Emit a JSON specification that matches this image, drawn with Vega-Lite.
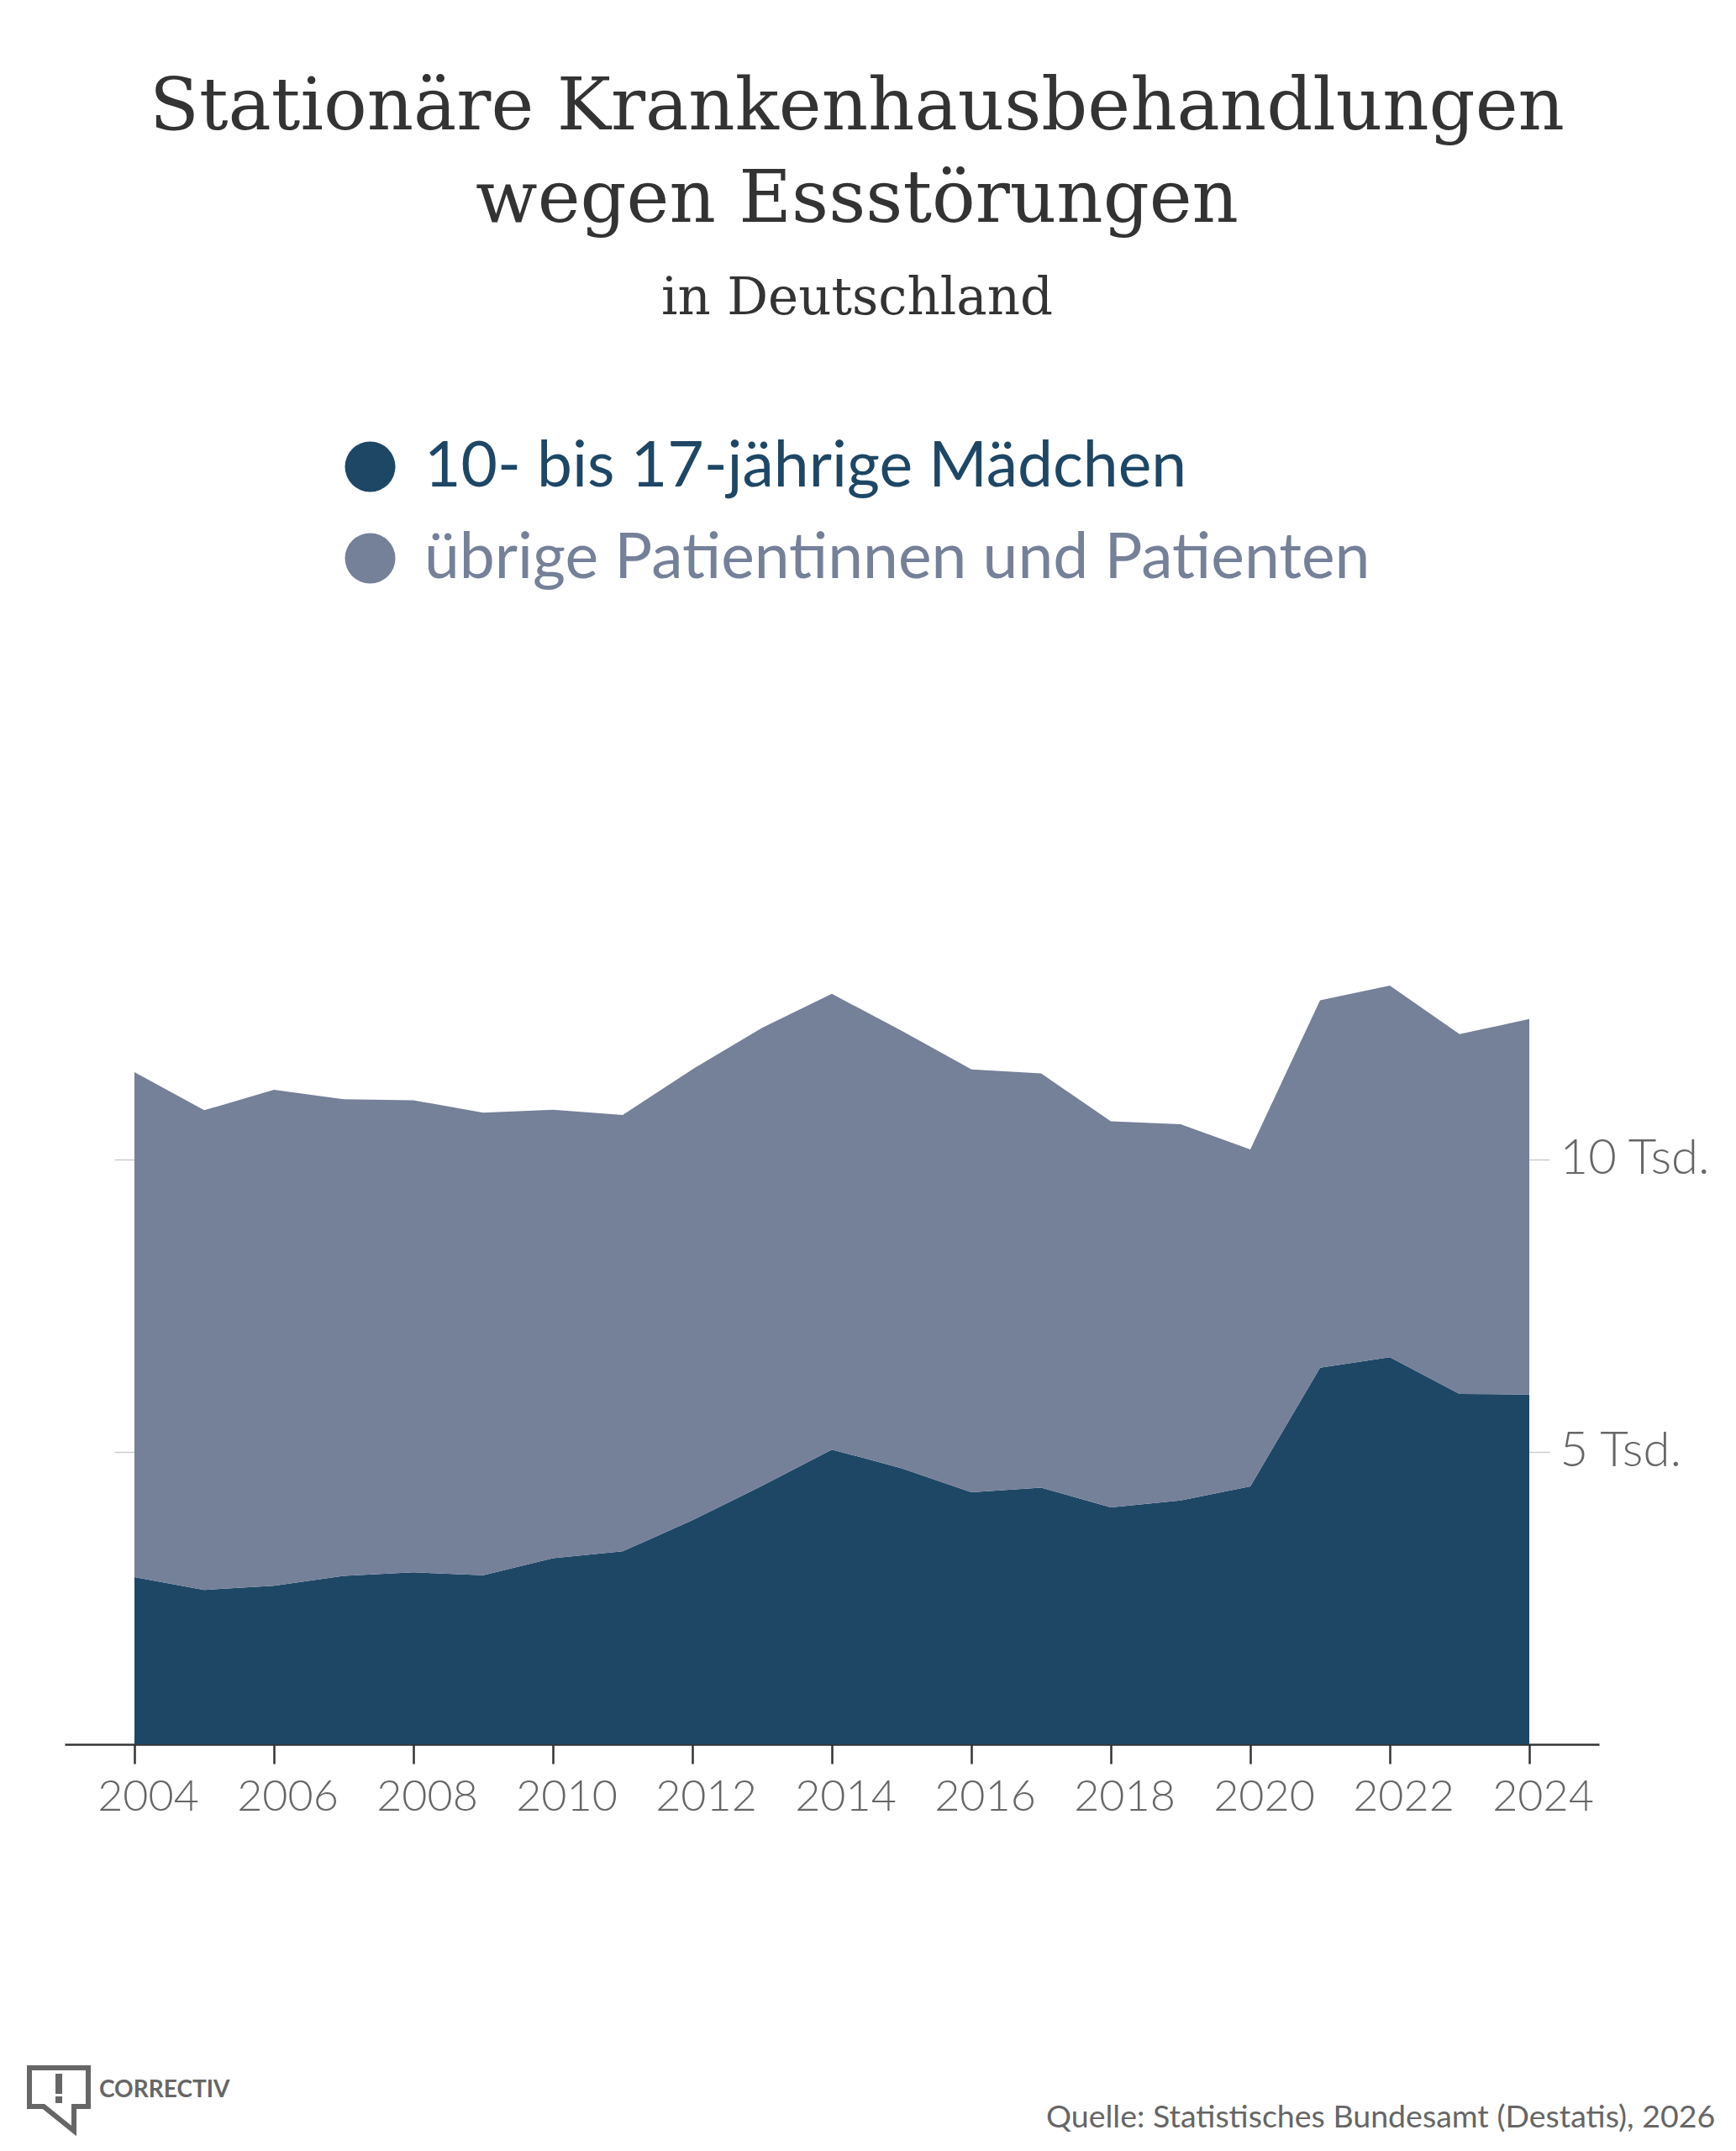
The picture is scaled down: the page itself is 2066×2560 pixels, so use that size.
{
  "$schema": "https://vega.github.io/schema/vega-lite/v6.json",
  "width": 1826,
  "height": 905,
  "autosize": "none",
  "padding": {"left": 77, "top": 1171, "right": 163, "bottom": 484},
  "background": "white",
  "config": {"view": {"stroke": null}, "font": "Lato"},
  "title": {
    "text": ["Stationäre Krankenhausbehandlungen", "wegen Essstörungen"],
    "subtitle": "in Deutschland",
    "font": "DejaVu Serif",
    "fontSize": 86,
    "fontWeight": "normal",
    "color": "#333333",
    "lineHeight": 110,
    "subtitleFont": "DejaVu Serif",
    "subtitleFontSize": 61,
    "subtitleColor": "#333333",
    "subtitlePadding": 44,
    "anchor": "middle",
    "frame": "group",
    "offset": 131,
    "dx": 30
  },
  "datasets": {
    "main": [
      {"year": 2004, "group": "10- bis 17-jährige Mädchen", "value": 2860},
      {"year": 2005, "group": "10- bis 17-jährige Mädchen", "value": 2640},
      {"year": 2006, "group": "10- bis 17-jährige Mädchen", "value": 2710},
      {"year": 2007, "group": "10- bis 17-jährige Mädchen", "value": 2880},
      {"year": 2008, "group": "10- bis 17-jährige Mädchen", "value": 2940},
      {"year": 2009, "group": "10- bis 17-jährige Mädchen", "value": 2890},
      {"year": 2010, "group": "10- bis 17-jährige Mädchen", "value": 3180},
      {"year": 2011, "group": "10- bis 17-jährige Mädchen", "value": 3300},
      {"year": 2012, "group": "10- bis 17-jährige Mädchen", "value": 3830},
      {"year": 2013, "group": "10- bis 17-jährige Mädchen", "value": 4420},
      {"year": 2014, "group": "10- bis 17-jährige Mädchen", "value": 5040},
      {"year": 2015, "group": "10- bis 17-jährige Mädchen", "value": 4720},
      {"year": 2016, "group": "10- bis 17-jährige Mädchen", "value": 4310},
      {"year": 2017, "group": "10- bis 17-jährige Mädchen", "value": 4390},
      {"year": 2018, "group": "10- bis 17-jährige Mädchen", "value": 4050},
      {"year": 2019, "group": "10- bis 17-jährige Mädchen", "value": 4170},
      {"year": 2020, "group": "10- bis 17-jährige Mädchen", "value": 4410},
      {"year": 2021, "group": "10- bis 17-jährige Mädchen", "value": 6440},
      {"year": 2022, "group": "10- bis 17-jährige Mädchen", "value": 6620},
      {"year": 2023, "group": "10- bis 17-jährige Mädchen", "value": 5990},
      {"year": 2024, "group": "10- bis 17-jährige Mädchen", "value": 5980},
      {"year": 2004, "group": "übrige Patientinnen und Patienten", "value": 8630},
      {"year": 2005, "group": "übrige Patientinnen und Patienten", "value": 8200},
      {"year": 2006, "group": "übrige Patientinnen und Patienten", "value": 8480},
      {"year": 2007, "group": "übrige Patientinnen und Patienten", "value": 8150},
      {"year": 2008, "group": "übrige Patientinnen und Patienten", "value": 8070},
      {"year": 2009, "group": "übrige Patientinnen und Patienten", "value": 7910},
      {"year": 2010, "group": "übrige Patientinnen und Patienten", "value": 7670},
      {"year": 2011, "group": "übrige Patientinnen und Patienten", "value": 7460},
      {"year": 2012, "group": "übrige Patientinnen und Patienten", "value": 7710},
      {"year": 2013, "group": "übrige Patientinnen und Patienten", "value": 7830},
      {"year": 2014, "group": "übrige Patientinnen und Patienten", "value": 7790},
      {"year": 2015, "group": "übrige Patientinnen und Patienten", "value": 7480},
      {"year": 2016, "group": "übrige Patientinnen und Patienten", "value": 7230},
      {"year": 2017, "group": "übrige Patientinnen und Patienten", "value": 7080},
      {"year": 2018, "group": "übrige Patientinnen und Patienten", "value": 6600},
      {"year": 2019, "group": "übrige Patientinnen und Patienten", "value": 6430},
      {"year": 2020, "group": "übrige Patientinnen und Patienten", "value": 5760},
      {"year": 2021, "group": "übrige Patientinnen und Patienten", "value": 6280},
      {"year": 2022, "group": "übrige Patientinnen und Patienten", "value": 6350},
      {"year": 2023, "group": "übrige Patientinnen und Patienten", "value": 6150},
      {"year": 2024, "group": "übrige Patientinnen und Patienten", "value": 6420}
    ]
  },
  "resolve": {"axis": {"y": "independent", "x": "independent"}},
  "layer": [
    {
      "data": {"name": "main"},
      "mark": {"type": "area", "opacity": 1},
      "encoding": {
        "x": {
          "field": "year",
          "type": "quantitative",
          "scale": {"domain": [2003, 2025], "nice": false, "zero": false},
          "axis": {
            "values": [2004, 2006, 2008, 2010, 2012, 2014, 2016, 2018, 2020, 2022, 2024],
            "format": "d",
            "title": null,
            "grid": false,
            "domain": true,
            "domainColor": "#333333",
            "domainWidth": 2.5,
            "ticks": true,
            "tickColor": "#333333",
            "tickWidth": 2.5,
            "tickSize": 23,
            "labelFont": "Lato",
            "labelFontWeight": 300,
            "labelFontSize": 52,
            "labelColor": "#666666",
            "labelPadding": 14,
            "labelOffset": 16
          }
        },
        "y": {
          "field": "value",
          "type": "quantitative",
          "stack": "zero",
          "scale": {"domain": [0, 13000], "nice": false},
          "axis": {
            "orient": "left",
            "offset": -83,
            "values": [5000, 10000],
            "labels": false,
            "domain": false,
            "grid": false,
            "title": null,
            "tickSize": 24,
            "tickColor": "#cccccc",
            "tickWidth": 1.5
          }
        },
        "order": {"field": "group", "sort": "ascending"},
        "color": {
          "field": "group",
          "type": "nominal",
          "scale": {
            "domain": ["10- bis 17-jährige Mädchen", "übrige Patientinnen und Patienten"],
            "range": ["#1e4766", "#758099"]
          },
          "legend": {
            "orient": "none",
            "legendX": 326,
            "legendY": -653,
            "direction": "vertical",
            "title": null,
            "padding": 0,
            "symbolType": "circle",
            "symbolSize": 3600,
            "symbolStrokeWidth": 0,
            "symbolOpacity": 1,
            "labelFont": "Lato",
            "labelFontSize": 75,
            "labelOffset": 27,
            "labelLimit": 2000,
            "rowPadding": 33,
            "encode": {"labels": {"update": {"fill": {"scale": "color", "field": "value"}}}}
          }
        }
      }
    },
    {
      "data": {"name": "main"},
      "mark": {"type": "point", "opacity": 0},
      "encoding": {
        "x": {"field": "year", "type": "quantitative", "scale": {"domain": [2003, 2025], "nice": false, "zero": false}, "axis": null},
        "y": {
          "field": "value",
          "type": "quantitative",
          "scale": {"domain": [0, 13000], "nice": false},
          "axis": {
            "orient": "right",
            "offset": -84,
            "values": [5000, 10000],
            "labelExpr": "datum.value / 1000 + ' Tsd.'",
            "domain": false,
            "grid": false,
            "title": null,
            "tickSize": 25,
            "tickColor": "#cccccc",
            "tickWidth": 1.5,
            "labelFont": "Lato",
            "labelFontWeight": 300,
            "labelFontSize": 58,
            "labelColor": "#666666",
            "labelPadding": 12
          }
        }
      }
    },
    {
      "data": {"values": [{"t": "Quelle: Statistisches Bundesamt (Destatis), 2026"}]},
      "mark": {"type": "text", "align": "right", "baseline": "alphabetic", "font": "Lato", "fontSize": 37.5, "color": "#666666"},
      "encoding": {
        "text": {"field": "t"},
        "x": {"datum": 2026.665, "type": "quantitative", "axis": null},
        "y": {"datum": -6552, "type": "quantitative", "axis": null}
      }
    },
    {
      "data": {"values": [{"t": "CORRECTIV"}]},
      "mark": {"type": "text", "align": "left", "baseline": "alphabetic", "font": "Lato", "fontWeight": "bold", "fontSize": 28, "color": "#666666"},
      "encoding": {
        "text": {"field": "t"},
        "x": {"datum": 2003.494, "type": "quantitative", "axis": null},
        "y": {"datum": -6034, "type": "quantitative", "axis": null}
      }
    },
    {
      "data": {"values": [{"t": "logo"}]},
      "mark": {"type": "point", "shape": "M-0.875,-0.925 L0.875,-0.925 L0.875,0.225 L0.45,0.225 L0.45,0.95 L-0.45,0.225 L-0.875,0.225 Z", "filled": false, "stroke": "#666666", "strokeWidth": 6, "size": 6400, "opacity": 1, "strokeJoin": "miter"},
      "encoding": {
        "x": {"datum": 2002.916, "type": "quantitative", "axis": null},
        "y": {"datum": -6063, "type": "quantitative", "axis": null}
      }
    },
    {
      "data": {"values": [{"t": "logo"}]},
      "mark": {"type": "point", "shape": "M-0.1,-0.75 L0.1,-0.75 L0.1,-0.15 L-0.1,-0.15 Z M-0.1,-0.075 L0.1,-0.075 L0.1,0.125 L-0.1,0.125 Z", "filled": true, "fill": "#666666", "strokeWidth": 0, "size": 6400, "opacity": 1},
      "encoding": {
        "x": {"datum": 2002.916, "type": "quantitative", "axis": null},
        "y": {"datum": -6063, "type": "quantitative", "axis": null}
      }
    }
  ]
}
